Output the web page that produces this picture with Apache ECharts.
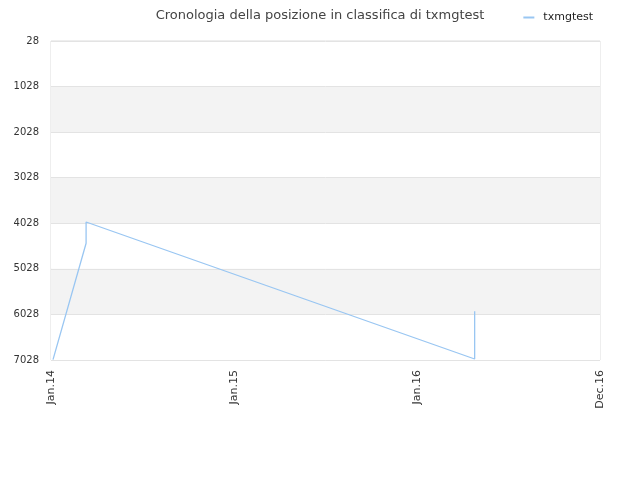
<!DOCTYPE html>
<html><head><meta charset="utf-8">
<script src="https://cdn.jsdelivr.net/npm/echarts@6/dist/echarts.min.js"></script>
<style>html,body{margin:0;padding:0;background:#fff}#c{width:640px;height:480px}</style>
</head><body><div id="c"></div>
<script>
const titleText = 'Cronologia della posizione in classifica di txmgtest';
const seriesName = 'txmgtest';
const dates = ['2014-01-05', '2014-03-12', '2014-03-12', '2016-04-25', '2016-04-25'];
const ranks = [7020, 4467, 4000, 7006, 5956];
const yTicks = [28, 1028, 2028, 3028, 4028, 5028, 6028, 7028];
const xStart = '2014-01-01';
const xEnd = '2016-12-31';
const months = ['Jan','Feb','Mar','Apr','May','Jun','Jul','Aug','Sep','Oct','Nov','Dec'];

const DAY = 86400000;
const toTs = s => Date.UTC(+s.slice(0,4), +s.slice(5,7)-1, +s.slice(8,10));
const data = dates.map((d,i)=>[toTs(d), ranks[i]]);

const chart = echarts.init(document.getElementById('c'));
chart.setOption({
  animation:false,
  title:{text:titleText, left:'center', top:4, textStyle:{fontSize:13, fontWeight:'normal', color:'#444', fontFamily:'DejaVu Sans'}},
  legend:{right:42, top:7, itemWidth:11, itemHeight:2, icon:'rect', textStyle:{fontSize:11, color:'#222', fontFamily:'DejaVu Sans', padding:[0,0,0,4]}, data:[seriesName]},
  grid:{left:51, right:40, top:41, bottom:120, show:true, borderColor:'#ddd', borderWidth:1, containLabel:false},
  xAxis:{type:'value', min:toTs(xStart), max:toTs(xEnd), interval:365*DAY,
    axisLine:{show:false}, axisTick:{show:false}, splitLine:{show:false},
    axisLabel:{rotate:90, fontSize:11, margin:10, color:'#333', fontFamily:'DejaVu Sans', showMaxLabel:true,
      formatter:v=>{const d=new Date(v); return months[d.getUTCMonth()]+'.'+String(d.getUTCFullYear()).slice(2);}}},
  yAxis:{type:'value', inverse:true, min:yTicks[0], max:yTicks[yTicks.length-1], interval:yTicks[1]-yTicks[0],
    axisLine:{show:false}, axisTick:{show:false},
    splitLine:{lineStyle:{color:'#e3e3e3'}},
    splitArea:{show:true, areaStyle:{color:['#ffffff','#f3f3f3']}},
    axisLabel:{fontSize:10, color:'#333', fontFamily:'DejaVu Sans', margin:12, formatter:v=>String(v)}},
  series:[{name:seriesName, type:'line', data:data, symbol:'none', lineStyle:{color:'#99c6f2', width:1.3}, itemStyle:{color:'#99c6f2'}}]
});
</script></body></html>
